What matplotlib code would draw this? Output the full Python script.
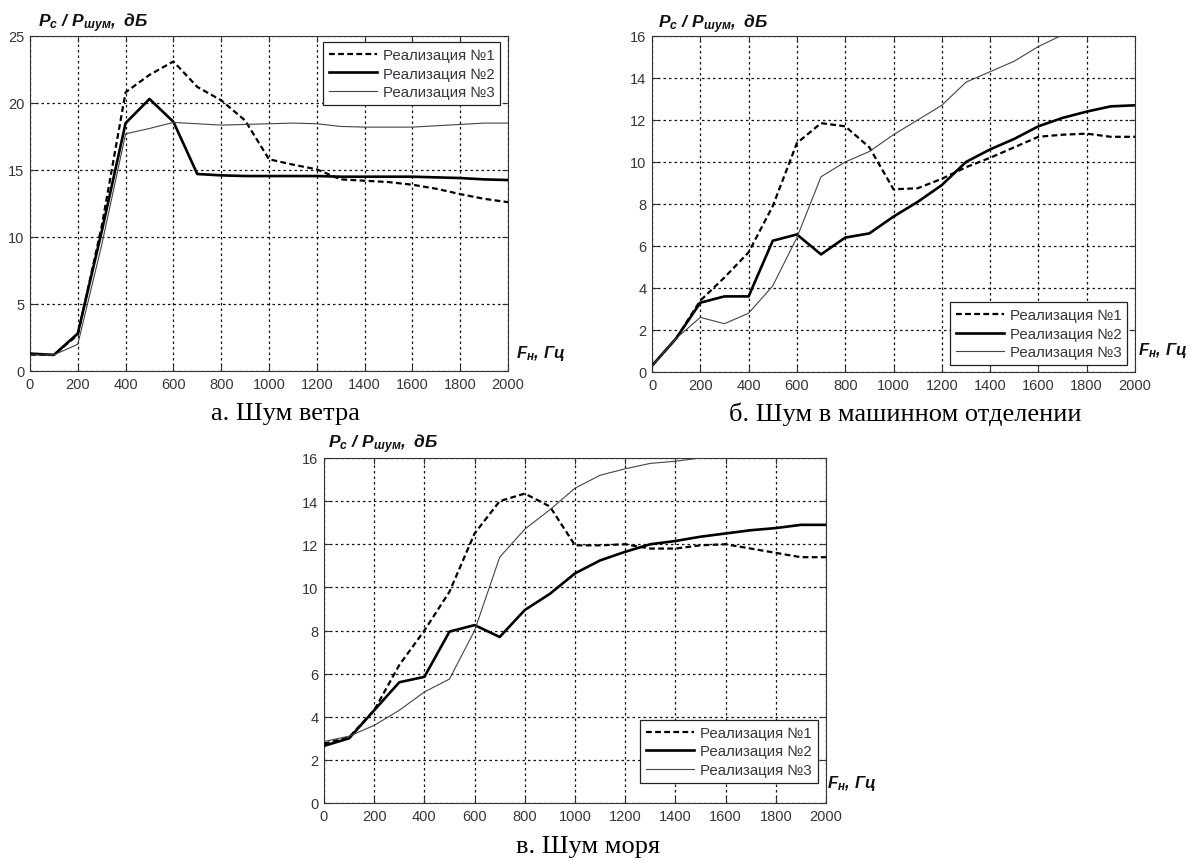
import numpy as np
import matplotlib
matplotlib.use("Agg")
import matplotlib.pyplot as plt

plt.rcParams['font.family'] = ['Liberation Sans', 'DejaVu Sans']
plt.rcParams['mathtext.fontset'] = 'custom'
plt.rcParams['mathtext.it'] = 'Liberation Sans:bold:italic'
plt.rcParams['mathtext.rm'] = 'Liberation Sans:bold:italic'
plt.rcParams['mathtext.bf'] = 'Liberation Sans:bold:italic'

# ---------------- data ----------------
freq = [0, 100, 200, 300, 400, 500, 600, 700, 800, 900, 1000,
        1100, 1200, 1300, 1400, 1500, 1600, 1700, 1800, 1900, 2000]

series_labels = ['Реализация №1', 'Реализация №2', 'Реализация №3']

# a. wind noise
wind_r1 = [1.2, 1.2, 2.7, 10.8, 20.8, 22.1, 23.1, 21.2, 20.2, 18.7, 15.8,
           15.4, 15.05, 14.3, 14.2, 14.1, 13.9, 13.6, 13.2, 12.85, 12.6]
wind_r2 = [1.3, 1.2, 2.8, 10.4, 18.5, 20.3, 18.6, 14.7, 14.6, 14.55, 14.55,
           14.55, 14.55, 14.5, 14.5, 14.5, 14.5, 14.45, 14.4, 14.3, 14.25]
wind_r3 = [1.2, 1.2, 2.0, 9.4, 17.7, 18.1, 18.55, 18.45, 18.35, 18.4, 18.45,
           18.5, 18.45, 18.25, 18.2, 18.2, 18.2, 18.3, 18.4, 18.5, 18.5]

# б. engine room noise
eng_r1 = [0.3, 1.6, 3.4, 4.5, 5.7, 7.9, 10.9, 11.85, 11.7, 10.7, 8.7,
          8.75, 9.2, 9.75, 10.2, 10.7, 11.2, 11.3, 11.35, 11.2, 11.2]
eng_r2 = [0.3, 1.6, 3.3, 3.6, 3.6, 6.25, 6.55, 5.6, 6.4, 6.6, 7.4,
          8.1, 8.9, 10.0, 10.6, 11.1, 11.7, 12.1, 12.4, 12.65, 12.7]
eng_r3 = [0.3, 1.6, 2.6, 2.3, 2.8, 4.1, 6.4, 9.3, 10.0, 10.5, 11.3,
          12.0, 12.7, 13.8, 14.3, 14.8, 15.5, 16.05, np.nan, np.nan, np.nan]

# в. sea noise
sea_r1 = [2.75, 3.05, 4.3, 6.4, 8.0, 9.8, 12.5, 14.0, 14.35, 13.75, 11.95,
          11.95, 12.0, 11.8, 11.8, 11.95, 12.0, 11.8, 11.6, 11.4, 11.4]
sea_r2 = [2.65, 3.0, 4.3, 5.6, 5.85, 7.95, 8.25, 7.7, 8.95, 9.7, 10.65,
          11.25, 11.65, 12.0, 12.15, 12.35, 12.5, 12.65, 12.75, 12.9, 12.9]
sea_r3 = [2.85, 3.1, 3.6, 4.3, 5.15, 5.75, 8.0, 11.4, 12.7, 13.6, 14.6,
          15.2, 15.5, 15.75, 15.85, 16.0, np.nan, np.nan, np.nan, np.nan, np.nan]

x_ticks = [0, 200, 400, 600, 800, 1000, 1200, 1400, 1600, 1800, 2000]
yticks_a = [0, 5, 10, 15, 20, 25]
yticks_bc = [0, 2, 4, 6, 8, 10, 12, 14, 16]

captions = ['а. Шум ветра', 'б. Шум в машинном отделении', 'в. Шум моря']
ylab = r'$P_{c}\ /\ P_{шум},\ дБ$'
xlab = r'$F_{н},\,Гц$'

W, H = 1190, 862
fig = plt.figure(figsize=(W / 100, H / 100), dpi=100)


def px_axes(x0, x1, y0, y1):
    return fig.add_axes([x0 / W, 1 - y1 / H, (x1 - x0) / W, (y1 - y0) / H])


tick_color = '#35353f'


def draw(ax, r1, r2, r3, ylim, yticks, legend_anchor, legend_loc):
    ax.plot(freq, r1, color='black', lw=1.6, linestyle=(0, (2.6, 1.5)),
            label=series_labels[0], zorder=3)
    ax.plot(freq, r2, color='black', lw=1.9, label=series_labels[1], zorder=3)
    ax.plot(freq, r3, color='#444444', lw=0.8, label=series_labels[2], zorder=3)
    ax.set_xlim(0, 2000)
    ax.set_ylim(*ylim)
    ax.set_xticks(x_ticks)
    ax.set_yticks(yticks)
    ax.grid(True, color='#111111', lw=0.9, linestyle=(0, (2, 2.4)))
    ax.tick_params(direction='in', length=4, top=True, right=True,
                   labelsize=10.5, colors=tick_color, pad=4)
    ax.tick_params(axis='both', color='#333333')
    for s in ax.spines.values():
        s.set_linewidth(0.8)
        s.set_color('#333333')
    leg = ax.legend(loc=legend_loc, bbox_to_anchor=legend_anchor,
                    borderaxespad=0, fancybox=False, framealpha=1,
                    edgecolor='#222222', fontsize=10.8, handlelength=3.2,
                    handletextpad=0.4, labelspacing=0.3, borderpad=0.4)
    leg.get_frame().set_linewidth(0.9)
    for t in leg.get_texts():
        t.set_color(tick_color)


ax_a = px_axes(30, 508, 37, 372)
draw(ax_a, wind_r1, wind_r2, wind_r3, (0, 25), yticks_a, (0.984, 0.982), 'upper right')

ax_b = px_axes(652, 1135, 37, 373)
draw(ax_b, eng_r1, eng_r2, eng_r3, (0, 16), yticks_bc, (0.984, 0.02), 'lower right')

ax_c = px_axes(324, 826, 459, 804)
draw(ax_c, sea_r1, sea_r2, sea_r3, (0, 16), yticks_bc, (0.984, 0.058), 'lower right')

# axis labels
for (x, y) in [(38, 27), (658, 28), (328, 448)]:
    fig.text(x / W, 1 - y / H, ylab, fontsize=12.5, color='#111111', va='baseline', ha='left')
for (x, y) in [(516, 358), (1138, 355), (827, 788)]:
    fig.text(x / W, 1 - y / H, xlab, fontsize=12, color='#111111', va='baseline', ha='left')

# captions
for (x, y), txt in zip([(285, 414), (905, 414), (588, 847)], captions):
    fig.text(x / W, 1 - y / H, txt, fontsize=19, family='Liberation Serif',
             color='black', ha='center', va='center')

fig.savefig('out.png', dpi=100)
